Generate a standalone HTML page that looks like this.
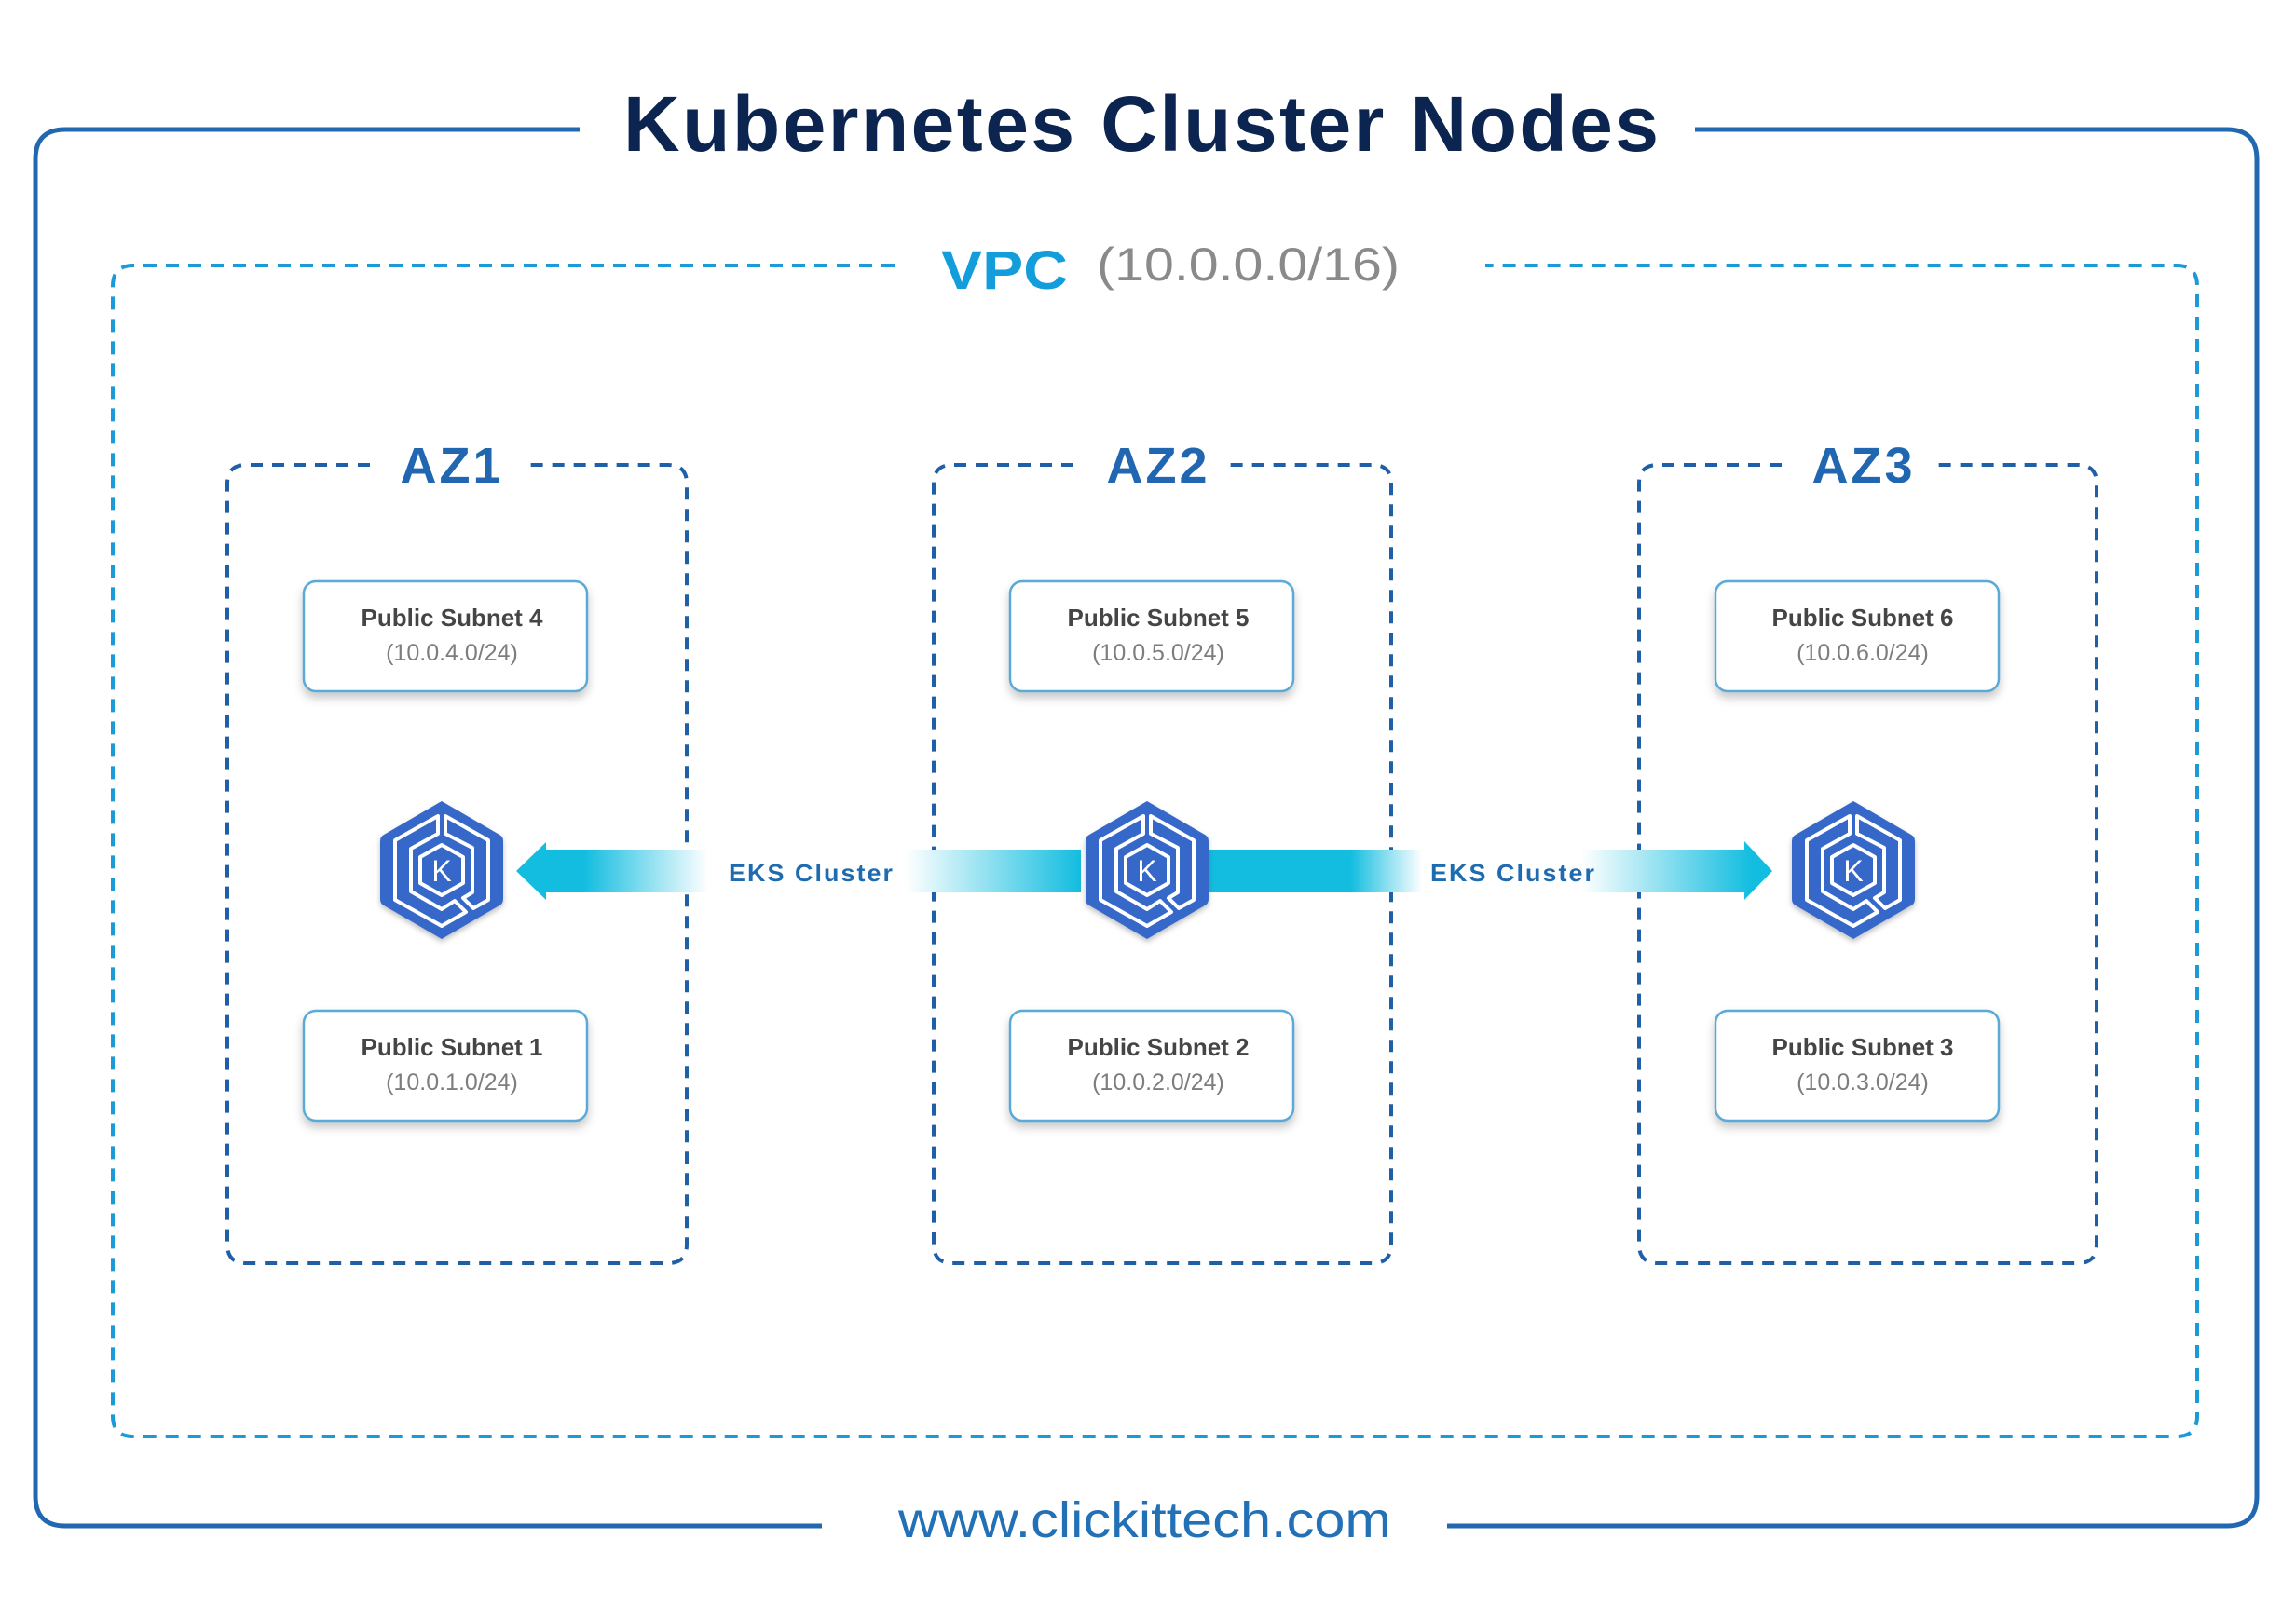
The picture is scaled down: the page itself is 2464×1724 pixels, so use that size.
<!DOCTYPE html>
<html><head><meta charset="utf-8"><style>
html,body{margin:0;padding:0;background:#fff}
svg{display:block}
</style></head><body>
<svg width="2464" height="1724" viewBox="0 0 2464 1724" xmlns="http://www.w3.org/2000/svg">
<defs>
<linearGradient id="gL" x1="554" y1="0" x2="1160" y2="0" gradientUnits="userSpaceOnUse">
<stop offset="0" stop-color="#12bde0"/><stop offset="0.12" stop-color="#12bde0"/>
<stop offset="0.34" stop-color="#ffffff"/><stop offset="0.69" stop-color="#ffffff"/>
<stop offset="1" stop-color="#12bde0"/></linearGradient>
<linearGradient id="gR" x1="1290" y1="0" x2="1880" y2="0" gradientUnits="userSpaceOnUse">
<stop offset="0" stop-color="#12bde0"/><stop offset="0.27" stop-color="#12bde0"/>
<stop offset="0.40" stop-color="#ffffff"/><stop offset="0.69" stop-color="#ffffff"/>
<stop offset="1" stop-color="#12bde0"/></linearGradient>
<filter id="sh" x="-10%" y="-10%" width="120%" height="140%"><feDropShadow dx="0" dy="6" stdDeviation="5" flood-color="#000" flood-opacity="0.22"/></filter>
<filter id="hs" x="-20%" y="-20%" width="140%" height="140%"><feDropShadow dx="0" dy="3" stdDeviation="3" flood-color="#000" flood-opacity="0.25"/></filter>
<g id="hex">
<path d="M0,-74 L62,-38 Q66,-36 66,-31 L66,31 Q66,36 62,38 L0,74 L-62,38 Q-66,36 -66,31 L-66,-31 Q-66,-36 -62,-38 Z" fill="#3468c8" filter="url(#hs)"/>
<g fill="none" stroke="#fff" stroke-width="4" stroke-linejoin="round">
<path d="M-4,-58 L-50,-32 L-50,32 L0,60 L26,45 L14,33 L0,42 L-33,23 L-33,-23 L-4,-39 Z"/>
<path d="M4,-58 L50,-32 L50,32 L34,41 L23,30 L33,24 L33,-24 L4,-39 Z"/>
<path d="M0,-27 L23,-14 L23,14 L0,27 L-23,14 L-23,-14 Z"/>
</g>
<text x="0" y="12" text-anchor="middle" font-family="Liberation Sans,sans-serif" font-size="32" fill="#fff">K</text>
</g>
</defs>

<path d="M622,139 L70,139 Q38,139 38,171 L38,1606 Q38,1638 70,1638 L882,1638" fill="none" stroke="#2168b0" stroke-width="5"/>
<path d="M1819,139 L2390,139 Q2422,139 2422,171 L2422,1606 Q2422,1638 2390,1638 L1553,1638" fill="none" stroke="#2168b0" stroke-width="5"/>
<text x="669" y="162" font-family="Liberation Sans,sans-serif" font-weight="bold" font-size="84" fill="#0c2550" textLength="1111" lengthAdjust="spacing">Kubernetes Cluster Nodes</text>

<path d="M960,285 L143,285 Q121,285 121,307 L121,1520 Q121,1542 143,1542 L2336,1542 Q2358,1542 2358,1520 L2358,307 Q2358,285 2336,285 L1594,285" fill="none" stroke="#1a9ad6" stroke-width="4" stroke-dasharray="14,10"/>
<text x="1010" y="310" font-family="Liberation Sans,sans-serif" font-weight="bold" font-size="58" fill="#139ddb" textLength="136" lengthAdjust="spacingAndGlyphs">VPC</text>
<text x="1177" y="301" font-family="Liberation Sans,sans-serif" font-size="50" fill="#8a8a8a" textLength="325" lengthAdjust="spacingAndGlyphs">(10.0.0.0/16)</text>

<g fill="none" stroke="#1f5fa8" stroke-width="4" stroke-dasharray="13,10">
<path d="M397,499 L264,499 Q244,499 244,519 L244,1336 Q244,1356 264,1356 L717,1356 Q737,1356 737,1336 L737,519 Q737,499 717,499 L564,499"/>
<path d="M1152,499 L1022,499 Q1002,499 1002,519 L1002,1336 Q1002,1356 1022,1356 L1473,1356 Q1493,1356 1493,1336 L1493,519 Q1493,499 1473,499 L1316,499"/>
<path d="M1912,499 L1779,499 Q1759,499 1759,519 L1759,1336 Q1759,1356 1779,1356 L2230,1356 Q2250,1356 2250,1336 L2250,519 Q2250,499 2230,499 L2077,499"/>
</g>
<g font-family="Liberation Sans,sans-serif" font-weight="bold" font-size="54" fill="#2166b0" text-anchor="middle" letter-spacing="3">
<text x="485" y="518">AZ1</text>
<text x="1243" y="518">AZ2</text>
<text x="2000" y="518">AZ3</text>
</g>

<path d="M554,935 L586,904 L586,912 L1160,912 L1160,958 L586,958 L586,966 Z" fill="url(#gL)"/>
<path d="M1290,912 L1872,912 L1872,903 L1902,935 L1872,966 L1872,958 L1290,958 Z" fill="url(#gR)"/>
<g font-family="Liberation Sans,sans-serif" font-weight="bold" font-size="26" fill="#1f6bb0" letter-spacing="2">
<text x="782" y="946" textLength="178" lengthAdjust="spacingAndGlyphs">EKS Cluster</text>
<text x="1535" y="946" textLength="178" lengthAdjust="spacingAndGlyphs">EKS Cluster</text>
</g>

<use href="#hex" x="474" y="934"/>
<use href="#hex" x="1231" y="934"/>
<use href="#hex" x="1989" y="934"/>

<g fill="#fff" stroke="#5aaad8" stroke-width="2.5" filter="url(#sh)">
<rect x="326" y="624" width="304" height="118" rx="13"/>
<rect x="1084" y="624" width="304" height="118" rx="13"/>
<rect x="1841" y="624" width="304" height="118" rx="13"/>
<rect x="326" y="1085" width="304" height="118" rx="13"/>
<rect x="1084" y="1085" width="304" height="118" rx="13"/>
<rect x="1841" y="1085" width="304" height="118" rx="13"/>
</g>
<g font-family="Liberation Sans,sans-serif" text-anchor="middle">
<g font-weight="bold" font-size="26" fill="#454545">
<text x="485" y="672">Public Subnet 4</text>
<text x="1243" y="672">Public Subnet 5</text>
<text x="1999" y="672">Public Subnet 6</text>
<text x="485" y="1133">Public Subnet 1</text>
<text x="1243" y="1133">Public Subnet 2</text>
<text x="1999" y="1133">Public Subnet 3</text>
</g>
<g font-size="25" fill="#7d7d7d">
<text x="485" y="709">(10.0.4.0/24)</text>
<text x="1243" y="709">(10.0.5.0/24)</text>
<text x="1999" y="709">(10.0.6.0/24)</text>
<text x="485" y="1170">(10.0.1.0/24)</text>
<text x="1243" y="1170">(10.0.2.0/24)</text>
<text x="1999" y="1170">(10.0.3.0/24)</text>
</g>
</g>

<text x="964" y="1650" font-family="Liberation Sans,sans-serif" font-size="54" fill="#2270b5" textLength="529" lengthAdjust="spacingAndGlyphs">www.clickittech.com</text>
</svg>
</body></html>
